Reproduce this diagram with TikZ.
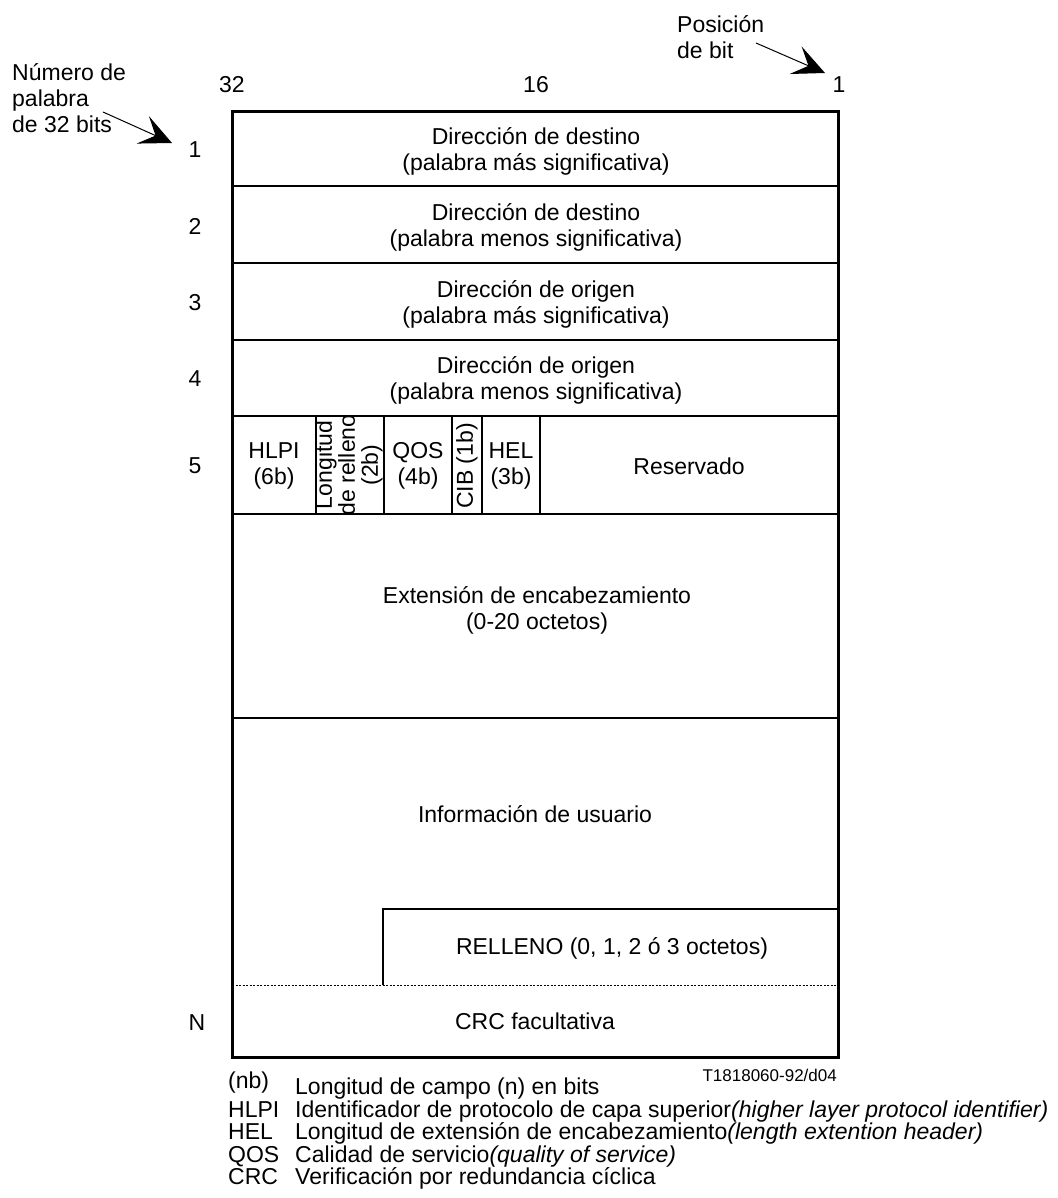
\documentclass[tikz,border=0pt]{standalone}
\usepackage{fontspec}
\setmainfont{Liberation Sans}
\usetikzlibrary{arrows.meta}
\newcommand\myfs{\fontsize{23}{26}\selectfont}
\begin{document}
\begin{tikzpicture}[x=1pt,y=-1pt,
  txt/.style={font=\myfs, align=center, inner sep=0pt},
  lbl/.style={font=\myfs, inner sep=0pt},
  foot/.style={font=\myfs, inner sep=0pt, anchor=base west},
  outer/.style={line width=3pt},
  rowline/.style={line width=2.6pt},
  divline/.style={line width=1.6pt},
  pointer/.style={line width=1pt, -{Stealth[length=32pt,width=30pt,inset=14pt]}}]
\useasboundingbox (0,0) rectangle (1057,1198);
% table
\draw[rowline] (232,186) -- (838,186);
\draw[rowline] (232,263) -- (838,263);
\draw[rowline] (232,340) -- (838,340);
\draw[rowline] (232,416) -- (838,416);
\draw[rowline] (232,514) -- (838,514);
\draw[rowline] (232,718) -- (838,718);
\foreach \xx in {316,384,452,482,540} \draw[divline] (\xx,416) -- (\xx,514);
\draw[rowline] (383,985) -- (383,909) -- (838,909);
\draw[line width=1pt, dash pattern=on 2pt off 1.5pt] (232,985) -- (838,985);
\draw[outer] (232,112) rectangle (838,1057);
% top labels
\node[lbl] (b32) at (232,85) {32};
\node[lbl] (b16) at (536,85) {16};
\node[lbl] (b1) at (839,85) {1};
\node[txt, align=left, anchor=north west] (pos) at (677,15) {\fontsize{23}{24}\selectfont Posición\\de bit};
\node[txt, align=left, anchor=north west] (num) at (12,63) {Número de\\palabra\\de 32 bits};
\coordinate (posA) at (756,43);
\coordinate (posT) at (825,73);
\coordinate (numA) at (103,112);
\coordinate (numT) at (172,143);
\draw[pointer] (posA) -- (posT);
\draw[pointer] (numA) -- (numT);
% row numbers
\node[lbl] (w1) at (195,150) {1};
\node[lbl] (w2) at (195,226) {2};
\node[lbl] (w3) at (195,303) {3};
\node[lbl] (w4) at (195,379) {4};
\node[lbl] (w5) at (195,466) {5};
\node[lbl] (wN) at (197,1023) {N};
% row texts
\node[txt] (r1) at (536,151) {Dirección de destino\\(palabra más significativa)};
\node[txt] (r2) at (536,227) {Dirección de destino\\(palabra menos significativa)};
\node[txt] (r3) at (536,304) {Dirección de origen\\(palabra más significativa)};
\node[txt] (r4) at (536,380) {Dirección de origen\\(palabra menos significativa)};
\node[txt] (hlpi) at (274,466) {HLPI\\(6b)};
\begin{scope}
\clip (316,416) rectangle (384,514);
\node[txt, rotate=90, font=\fontsize{23}{23}\selectfont] (lr) at (349,465) {Longitud\\de relleno\\(2b)};
\end{scope}
\node[txt] (qos) at (418,466) {QOS\\(4b)};
\node[txt, rotate=90] (cib) at (467,466) {CIB (1b)};
\node[txt] (hel) at (511,466) {HEL\\(3b)};
\node[txt] (res) at (689,466) {Reservado};
\node[txt] (ext) at (537,610) {Extensión de encabezamiento\\(0-20 octetos)};
\node[txt] (inf) at (535,814) {Información de usuario};
\node[txt] (rel) at (612,948) {RELLENO (0, 1, 2 ó 3 octetos)};
\node[txt] (crc) at (535,1021) {CRC facultativa};
% footnotes
\node[font=\fontsize{17}{19}\selectfont, inner sep=0pt, anchor=base east] (ref) at (837,1081) {T1818060-92/d04};
\node[foot] (a1) at (228,1088) {(nb)};
\node[foot] (t1) at (295,1094) {Longitud de campo (n) en bits};
\node[foot] (a2) at (228,1117) {HLPI};
\node[foot] (t2) at (295,1117) {Identificador de protocolo de capa superior\textit{(higher layer protocol identifier)}};
\node[foot] (a3) at (228,1139) {HEL};
\node[foot] (t3) at (295,1139) {Longitud de extensión de encabezamiento\textit{(length extention header)}};
\node[foot] (a4) at (228,1162) {QOS};
\node[foot] (t4) at (295,1162) {Calidad de servicio\textit{(quality of service)}};
\node[foot] (a5) at (228,1184) {CRC};
\node[foot] (t5) at (295,1184) {Verificación por redundancia cíclica};
\end{tikzpicture}
\end{document}
